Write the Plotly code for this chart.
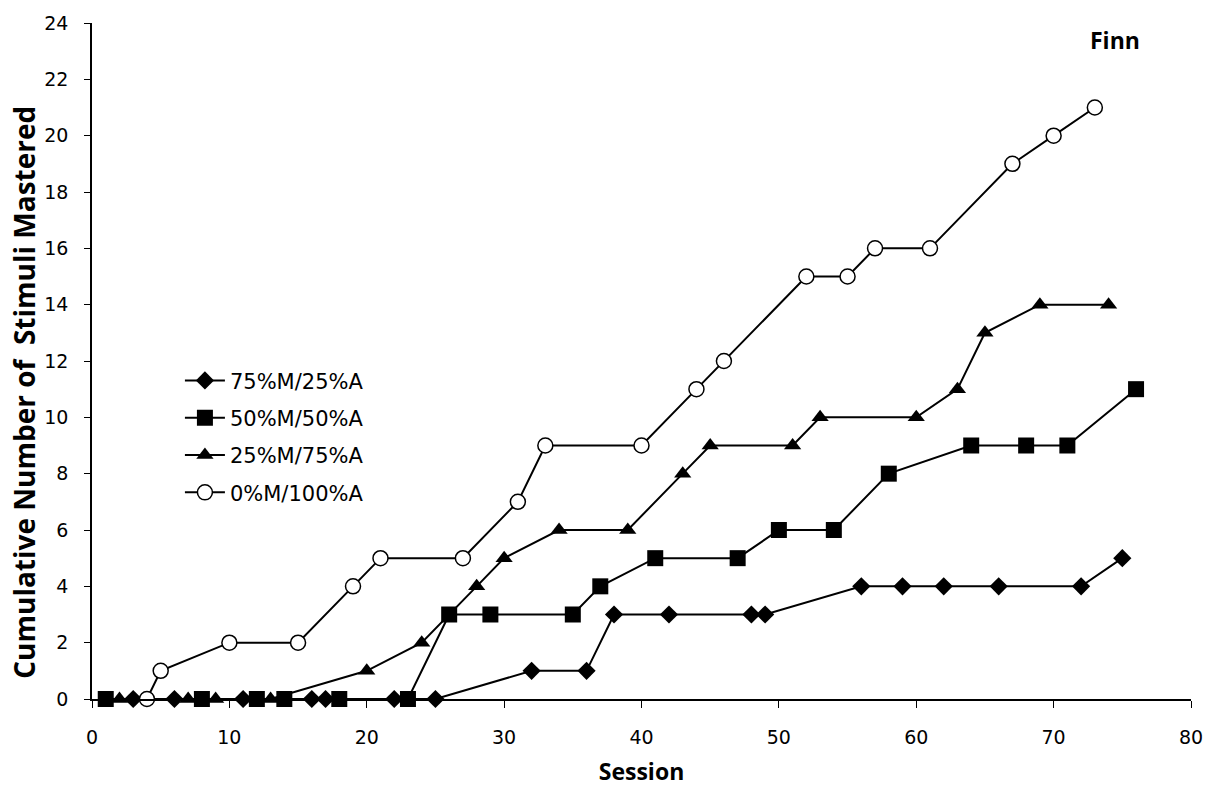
import plotly.graph_objects as go

# Data
s75_x = [3, 6, 11, 16, 17, 22, 25, 32, 36, 38, 42, 48, 49, 56, 59, 62, 66, 72, 75]
s75_y = [0, 0, 0, 0, 0, 0, 0, 1, 1, 3, 3, 3, 3, 4, 4, 4, 4, 4, 5]

s50_x = [1, 8, 12, 14, 18, 23, 26, 29, 35, 37, 41, 47, 50, 54, 58, 64, 68, 71, 76]
s50_y = [0, 0, 0, 0, 0, 0, 3, 3, 3, 4, 5, 5, 6, 6, 8, 9, 9, 9, 11]

s25_x = [2, 7, 9, 13, 20, 24, 28, 30, 34, 39, 43, 45, 51, 53, 60, 63, 65, 69, 74]
s25_y = [0, 0, 0, 0, 1, 2, 4, 5, 6, 6, 8, 9, 9, 10, 10, 11, 13, 14, 14]

s0_x = [4, 5, 10, 15, 19, 21, 27, 31, 33, 40, 44, 46, 52, 55, 57, 61, 67, 70, 73]
s0_y = [0, 1, 2, 2, 4, 5, 5, 7, 9, 9, 11, 12, 15, 15, 16, 16, 19, 20, 21]

names = ["75%M/25%A", "50%M/50%A", "25%M/75%A", "0%M/100%A"]

FONT = "Open Sans"
TFONT = "DejaVu Sans"

fig = go.Figure()
series = [
    (s75_x, s75_y, names[0], dict(symbol="diamond", size=14, color="black")),
    (s50_x, s50_y, names[1], dict(symbol="square", size=16, color="black")),
    (s25_x, s25_y, names[2], dict(symbol="triangle-up", size=15, color="black")),
    (s0_x, s0_y, names[3], dict(symbol="circle", size=15, color="white",
                               line=dict(color="black", width=1.5))),
]
for i, (x, y, n, m) in enumerate(series):
    fig.add_trace(go.Scatter(x=x, y=y, name=n, mode="lines+markers",
                             line=dict(color="black", width=2), marker=m,
                             legendgroup="g%d" % i, cliponaxis=False))

fig.update_layout(
    width=1223, height=793,
    margin=dict(l=92, r=32, t=17, b=94),
    paper_bgcolor="white", plot_bgcolor="white",
    font=dict(family=TFONT, size=19, color="black"),
    showlegend=True,
    legend=dict(x=0.080, y=0.501, xanchor="left", yanchor="top",
                bgcolor="rgba(0,0,0,0)", font=dict(size=21, family=TFONT),
                tracegroupgap=7, traceorder="grouped", itemwidth=40),
    xaxis=dict(range=[0, 80], dtick=10, tick0=0, showgrid=False, zeroline=False,
               showline=True, linecolor="black", linewidth=1.5,
               ticks="outside", ticklen=7, tickcolor="black", ticklabelstandoff=13,
               tickfont=dict(family=TFONT, size=19),
               title=dict(text="<b>Session</b>", font=dict(size=23, family=FONT), standoff=17)),
    yaxis=dict(range=[0, 24], dtick=2, tick0=0, showgrid=False, zeroline=False,
               showline=True, linecolor="black", linewidth=1.5,
               ticks="outside", ticklen=6, tickcolor="black", ticklabelstandoff=12,
               tickfont=dict(family=TFONT, size=19)),
)
fig.add_annotation(text="<b>Cumulative Number of\u00a0 Stimuli Mastered</b>",
                   x=-0.0619, y=0.4545, xref="paper", yref="paper",
                   xanchor="center", yanchor="middle", textangle=-90, showarrow=False,
                   font=dict(size=28, family=FONT))
fig.add_annotation(text="<b>Finn</b>", x=0.931, y=0.975, xref="paper", yref="paper",
                   xanchor="center", yanchor="middle", showarrow=False,
                   font=dict(size=23, family=FONT))

fig.write_html("out.html")
